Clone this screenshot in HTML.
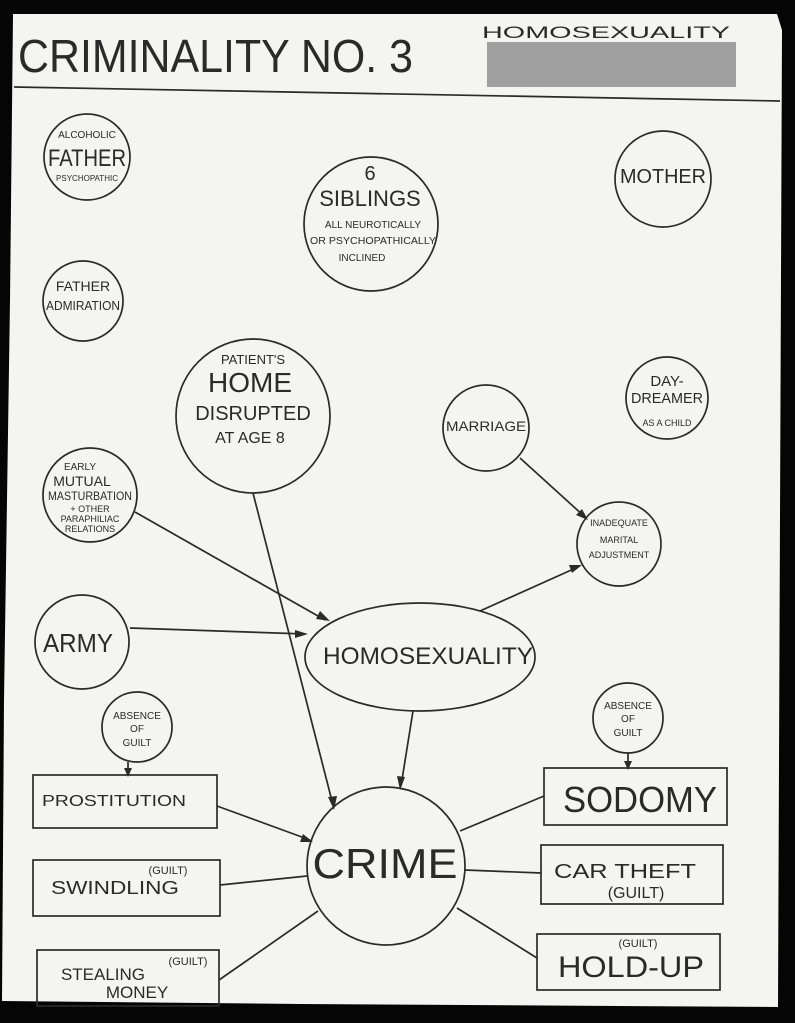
<!DOCTYPE html>
<html><head><meta charset="utf-8"><style>
html,body{margin:0;padding:0;background:#000;}
svg{display:block}
text{font-family:"Liberation Sans",sans-serif;fill:#2a2a2a;}
</style></head><body>
<svg width="795" height="1023" viewBox="0 0 795 1023" xmlns="http://www.w3.org/2000/svg">
<rect width="795" height="1023" fill="#050505"/>
<polygon points="13,14 777,14 782,30 778,1007 300,1004 2,1001 4,700 10,300" fill="#f4f4f2"/>
<g stroke="#2a2a2a" stroke-width="1.7" fill="none">
<line x1="14" y1="87" x2="780" y2="101"/>
<circle cx="87" cy="157" r="43"/>
<circle cx="371" cy="224" r="67"/>
<circle cx="663" cy="179" r="48"/>
<circle cx="83" cy="301" r="40"/>
<circle cx="253" cy="416" r="77"/>
<circle cx="486" cy="428" r="43"/>
<circle cx="667" cy="398" r="41"/>
<circle cx="90" cy="495" r="47"/>
<circle cx="619" cy="544" r="42"/>
<circle cx="82" cy="642" r="47"/>
<ellipse cx="420" cy="657" rx="115" ry="54"/>
<circle cx="137" cy="727" r="35"/>
<circle cx="628" cy="718" r="35"/>
<circle cx="386" cy="866" r="79"/>
<rect x="33" y="775" width="184" height="53"/>
<rect x="33" y="860" width="187" height="56"/>
<rect x="37" y="950" width="182" height="56"/>
<rect x="544" y="768" width="183" height="57"/>
<rect x="541" y="845" width="182" height="59"/>
<rect x="537" y="934" width="183" height="56"/>
<line x1="135" y1="512" x2="325" y2="620"/>
<line x1="130" y1="628" x2="305" y2="634"/>
<line x1="480" y1="611" x2="578" y2="567"/>
<line x1="520" y1="458" x2="585" y2="517"/>
<line x1="253" y1="493" x2="333" y2="805"/>
<line x1="413" y1="711" x2="401" y2="786"/>
<line x1="128" y1="762" x2="128" y2="773"/>
<line x1="628" y1="753" x2="628" y2="767"/>
<line x1="217" y1="806" x2="310" y2="840"/>
<line x1="220" y1="885" x2="307" y2="876"/>
<line x1="219" y1="980" x2="318" y2="911"/>
<line x1="460" y1="831" x2="544" y2="796"/>
<line x1="465" y1="870" x2="541" y2="873"/>
<line x1="457" y1="908" x2="537" y2="958"/>
</g>
<g fill="#2a2a2a">
<polygon points="330,621 316,619 320,611"/>
<polygon points="308,634 295,638 295,630"/>
<polygon points="582,565 572,573 569,565"/>
<polygon points="588,520 576,515 582,509"/>
<polygon points="334,810 328,797 337,796"/>
<polygon points="400,790 397,776 405,777"/>
<polygon points="128,777 124,768 132,768"/>
<polygon points="628,770 624,761 632,761"/>
<polygon points="313,842 300,842 303,834"/>
</g>
<rect x="487" y="42" width="249" height="45" fill="#a0a0a0"/>
<text x="18" y="72" font-size="46" textLength="395" lengthAdjust="spacingAndGlyphs">CRIMINALITY NO. 3</text>
<text x="482" y="38" font-size="17" textLength="248" lengthAdjust="spacingAndGlyphs">HOMOSEXUALITY</text>
<g text-anchor="middle">
<text x="87" y="138" font-size="10">ALCOHOLIC</text>
<text x="87" y="166" font-size="24" textLength="78" lengthAdjust="spacingAndGlyphs">FATHER</text>
<text x="87" y="181" font-size="8">PSYCHOPATHIC</text>
<text x="370" y="180" font-size="20">6</text>
<text x="370" y="206" font-size="22">SIBLINGS</text>
<text x="373" y="228" font-size="10">ALL NEUROTICALLY</text>
<text x="373" y="244" font-size="10" textLength="126" lengthAdjust="spacingAndGlyphs">OR PSYCHOPATHICALLY</text>
<text x="362" y="261" font-size="10">INCLINED</text>
<text x="663" y="183" font-size="20" textLength="86" lengthAdjust="spacingAndGlyphs">MOTHER</text>
<text x="83" y="291" font-size="14">FATHER</text>
<text x="83" y="310" font-size="13" textLength="74" lengthAdjust="spacingAndGlyphs">ADMIRATION</text>
<text x="253" y="364" font-size="13">PATIENT'S</text>
<text x="250" y="392" font-size="28">HOME</text>
<text x="253" y="420" font-size="20">DISRUPTED</text>
<text x="250" y="443" font-size="16">AT AGE 8</text>
<text x="486" y="431" font-size="14" textLength="80" lengthAdjust="spacingAndGlyphs">MARRIAGE</text>
<text x="667" y="386" font-size="15">DAY-</text>
<text x="667" y="403" font-size="15" textLength="72" lengthAdjust="spacingAndGlyphs">DREAMER</text>
<text x="667" y="426" font-size="9">AS A CHILD</text>
<text x="80" y="470" font-size="10">EARLY</text>
<text x="82" y="486" font-size="14">MUTUAL</text>
<text x="90" y="500" font-size="12" textLength="84" lengthAdjust="spacingAndGlyphs">MASTURBATION</text>
<text x="90" y="512" font-size="9">+ OTHER</text>
<text x="90" y="522" font-size="9">PARAPHILIAC</text>
<text x="90" y="532" font-size="9">RELATIONS</text>
<text x="619" y="526" font-size="9">INADEQUATE</text>
<text x="619" y="543" font-size="9">MARITAL</text>
<text x="619" y="558" font-size="9">ADJUSTMENT</text>
<text x="78" y="652" font-size="26" textLength="70" lengthAdjust="spacingAndGlyphs">ARMY</text>
<text x="428" y="664" font-size="24" textLength="210" lengthAdjust="spacingAndGlyphs">HOMOSEXUALITY</text>
<text x="137" y="719" font-size="10">ABSENCE</text>
<text x="137" y="732" font-size="10">OF</text>
<text x="137" y="746" font-size="10">GUILT</text>
<text x="628" y="709" font-size="10">ABSENCE</text>
<text x="628" y="722" font-size="10">OF</text>
<text x="628" y="736" font-size="10">GUILT</text>
<text x="385" y="878" font-size="42" textLength="145" lengthAdjust="spacingAndGlyphs">CRIME</text>
<text x="114" y="806" font-size="16" textLength="144" lengthAdjust="spacingAndGlyphs">PROSTITUTION</text>
<text x="115" y="894" font-size="18" textLength="128" lengthAdjust="spacingAndGlyphs">SWINDLING</text>
<text x="168" y="874" font-size="11">(GUILT)</text>
<text x="103" y="980" font-size="17">STEALING</text>
<text x="137" y="998" font-size="17">MONEY</text>
<text x="188" y="965" font-size="11">(GUILT)</text>
<text x="640" y="812" font-size="36" textLength="154" lengthAdjust="spacingAndGlyphs">SODOMY</text>
<text x="625" y="878" font-size="20" textLength="142" lengthAdjust="spacingAndGlyphs">CAR THEFT</text>
<text x="636" y="898" font-size="16">(GUILT)</text>
<text x="631" y="977" font-size="30" textLength="146" lengthAdjust="spacingAndGlyphs">HOLD-UP</text>
<text x="638" y="947" font-size="11">(GUILT)</text>
</g>
</svg>
</body></html>
